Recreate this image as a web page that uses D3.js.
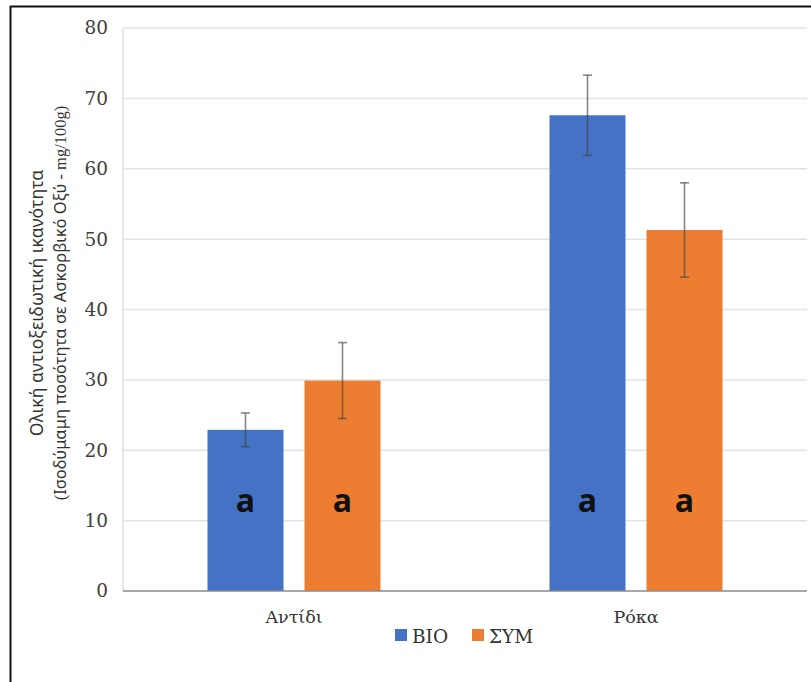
<!DOCTYPE html>
<html>
<head>
<meta charset="utf-8">
<script src="https://cdn.jsdelivr.net/npm/d3@7"></script>
<style>
html,body{margin:0;padding:0;background:#fff;}
svg{display:block;}
</style>
</head>
<body>
<script>
const categories = ["Αντίδι", "Ρόκα"];
const series = ["ΒΙΟ", "ΣΥΜ"];
const valuesBIO = [22.9, 67.6];
const valuesSYM = [29.9, 51.3];
const errorsBIO = [2.4, 5.7];
const errorsSYM = [5.4, 6.7];
const lettersBIO = ["a", "a"];
const lettersSYM = ["a", "a"];
const yTicks = [0, 10, 20, 30, 40, 50, 60, 70, 80];
const colors = ["#4472C4", "#ED7D31"];

const W = 811, H = 682;
const svg = d3.select("body").append("svg").attr("width", W).attr("height", H);

const x0 = d3.scaleBand().domain(categories).range([123, 807]).padding(0);
const x1 = d3.scaleBand().domain(series).range([0, x0.bandwidth()])
  .paddingInner(0.2165).paddingOuter(0.871);
const y = d3.scaleLinear().domain([0, 80]).range([591, 28]);

// frame
svg.append("line").attr("x1", 10).attr("x2", W).attr("y1", 6.5).attr("y2", 6.5)
  .attr("stroke", "#111").attr("stroke-width", 2);
svg.append("line").attr("x1", 10.5).attr("x2", 10.5).attr("y1", 6).attr("y2", H)
  .attr("stroke", "#111").attr("stroke-width", 2);

// gridlines
svg.append("g").selectAll("line").data(yTicks.filter(d => d > 0)).join("line")
  .attr("x1", 123).attr("x2", 807)
  .attr("y1", d => y(d)).attr("y2", d => y(d))
  .attr("stroke", "#e3e3e3").attr("stroke-width", 1.5);

// y axis labels
const yAxis = d3.axisLeft(y).tickValues(yTicks).tickSize(0).tickPadding(0);
const ya = svg.append("g").attr("transform", "translate(108,0)").call(yAxis);
ya.select(".domain").remove();
ya.selectAll("text").attr("font-family", "'DejaVu Serif', serif")
  .attr("font-size", 18.5).attr("fill", "#404040");

// left light axis line
svg.append("line").attr("x1", 123).attr("x2", 123).attr("y1", y(80)).attr("y2", y(0))
  .attr("stroke", "#d0d0d0").attr("stroke-width", 1);

const data = [];
categories.forEach((c, i) => {
  data.push({cat: c, s: series[0], v: valuesBIO[i], e: errorsBIO[i], l: lettersBIO[i], col: colors[0]});
  data.push({cat: c, s: series[1], v: valuesSYM[i], e: errorsSYM[i], l: lettersSYM[i], col: colors[1]});
});

// bars
svg.append("g").selectAll("rect").data(data).join("rect")
  .attr("x", d => x0(d.cat) + x1(d.s))
  .attr("y", d => y(d.v))
  .attr("width", x1.bandwidth())
  .attr("height", d => y(0) - y(d.v))
  .attr("fill", d => d.col);

// baseline
svg.append("line").attr("x1", 123).attr("x2", 807).attr("y1", y(0)).attr("y2", y(0))
  .attr("stroke", "#8a8a8a").attr("stroke-width", 1.5);

// error bars
const eg = svg.append("g").attr("stroke", "rgba(70,70,70,0.65)").attr("stroke-width", 1.6);
data.forEach(d => {
  const cx = x0(d.cat) + x1(d.s) + x1.bandwidth() / 2;
  eg.append("line").attr("x1", cx).attr("x2", cx).attr("y1", y(d.v + d.e)).attr("y2", y(d.v - d.e));
  eg.append("line").attr("x1", cx - 4.5).attr("x2", cx + 4.5).attr("y1", y(d.v + d.e)).attr("y2", y(d.v + d.e));
  eg.append("line").attr("x1", cx - 4.5).attr("x2", cx + 4.5).attr("y1", y(d.v - d.e)).attr("y2", y(d.v - d.e));
});

// letters
svg.append("g").selectAll("text").data(data).join("text")
  .attr("x", d => x0(d.cat) + x1(d.s) + x1.bandwidth() / 2)
  .attr("y", y(12.8))
  .attr("dy", "0.36em")
  .attr("text-anchor", "middle")
  .attr("font-family", "'Open Sans', sans-serif")
  .attr("font-weight", "bold")
  .attr("font-size", 32)
  .attr("fill", "#111")
  .text(d => d.l);

// category labels
svg.append("g").selectAll("text").data(categories).join("text")
  .attr("x", d => x0(d) + x0.bandwidth() / 2)
  .attr("y", 623)
  .attr("text-anchor", "middle")
  .attr("font-family", "'DejaVu Serif', serif")
  .attr("font-size", 17.5)
  .attr("fill", "#333")
  .text(d => d);

// legend
const legend = svg.append("g");
const legX = [395, 472];
series.forEach((s, i) => {
  legend.append("rect").attr("x", legX[i]).attr("y", 629).attr("width", 12).attr("height", 12).attr("fill", colors[i]);
  legend.append("text").attr("x", legX[i] + 17).attr("y", 643)
    .attr("font-family", "'DejaVu Serif', serif").attr("font-size", 18.5).attr("fill", "#333").text(s);
});

// y title
const t = svg.append("text").attr("transform", "translate(43,303) rotate(-90)")
  .attr("text-anchor", "middle").attr("font-family", "'Noto Sans', sans-serif")
  .attr("font-size", 17.5).attr("fill", "#333");
t.append("tspan").attr("x", 0).attr("dy", 0).text("Ολική αντιοξειδωτική ικανότητα");
const t2 = t.append("tspan").attr("x", 0).attr("dy", 23).attr("font-size", 16.5);
t2.append("tspan").attr("font-family", "'Liberation Serif', serif").text("(");
t2.append("tspan").text("Ισοδύμαμη ποσότητα σε Ασκορβικό Οξύ");
t2.append("tspan").attr("font-family", "'Liberation Serif', serif").text(" - mg/100g)");
</script>
</body>
</html>
